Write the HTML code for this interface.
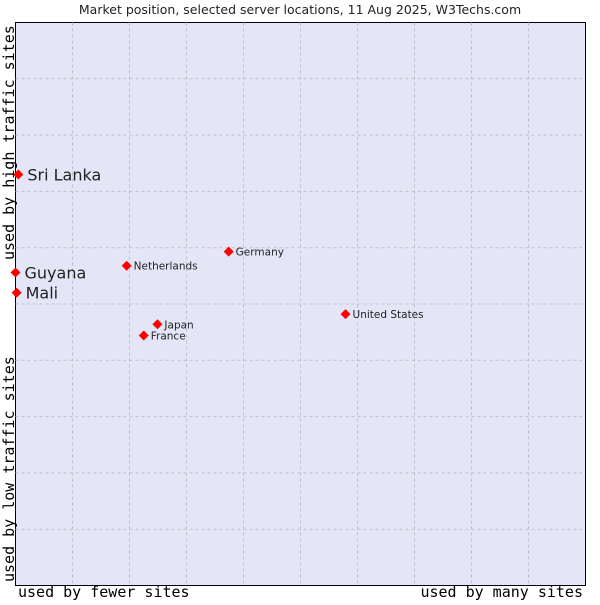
<!DOCTYPE html>
<html><head><meta charset="utf-8"><style>
body{margin:0;background:#fff;}
svg text{font-family:"DejaVu Sans","Liberation Sans",sans-serif;fill:#222;}
.ax{font-family:"DejaVu Sans Mono","Liberation Mono",monospace !important;font-size:15px;fill:#000;}
</style></head><body>
<svg id="chart" width="600" height="600">
<text x="300" y="14" text-anchor="middle" font-size="12.5">Market position, selected server locations, 11 Aug 2025, W3Techs.com</text>
<rect x="15.5" y="22.5" width="570" height="563" fill="#e4e6f8" stroke="#000" stroke-width="1"/>
<g id="grid"></g>
<g id="points"></g>
<text class="ax" x="18" y="597">used by fewer sites</text>
<text class="ax" x="583" y="597" text-anchor="end">used by many sites</text>
<text class="ax" transform="translate(14,582) rotate(-90)">used by low traffic sites</text>
<text class="ax" transform="translate(14,260) rotate(-90)">used by high traffic sites</text>
</svg>
<script>
const countries=["Sri Lanka","Guyana","Mali","Netherlands","Germany","Japan","France","United States"];
const xValues=[0.5,0,0.2,19.5,37.4,24.9,22.5,57.9];
const yValues=[73.0,55.6,52.0,56.8,59.3,46.4,44.4,48.2];
const bigLabel=[true,true,true,false,false,false,false,false];
const gridSteps=[10,20,30,40,50,60,70,80,90];
const X0=15.5,W=570,Y0=585.5,H=563;
const sx=v=>X0+v/100*W, sy=v=>Y0-v/100*H;
const NS="http://www.w3.org/2000/svg";
const g=document.getElementById('grid');
gridSteps.forEach(s=>{
 const a=document.createElementNS(NS,'line');
 a.setAttribute('x1',sx(s));a.setAttribute('x2',sx(s));a.setAttribute('y1',22.5);a.setAttribute('y2',585.5);
 a.setAttribute('stroke','#c0c0c8');a.setAttribute('stroke-dasharray','3,3');
 
 
 g.appendChild(a);
 const b=document.createElementNS(NS,'line');
 b.setAttribute('y1',sy(s));b.setAttribute('y2',sy(s));b.setAttribute('x1',15.5);b.setAttribute('x2',585.5);
 b.setAttribute('stroke','#c0c0c8');b.setAttribute('stroke-dasharray','3,3');
 
 
 g.appendChild(b);
});
const p=document.getElementById('points');
countries.forEach((c,i)=>{
 const x=sx(xValues[i]),y=sy(yValues[i]);
 const d=document.createElementNS(NS,'path');
 d.setAttribute('d',`M${x} ${y-5}L${x+5} ${y}L${x} ${y+5}L${x-5} ${y}Z`);
 d.setAttribute('fill','#f00');
 
 
 p.appendChild(d);
 const t=document.createElementNS(NS,'text');
 t.setAttribute('x',x+(bigLabel[i]?9:7));
 t.setAttribute('y',y+(bigLabel[i]?6:4));
 t.setAttribute('font-size',bigLabel[i]?16:10.5);
 t.textContent=c;
 
 
 p.appendChild(t);
});
</script>
</body></html>
